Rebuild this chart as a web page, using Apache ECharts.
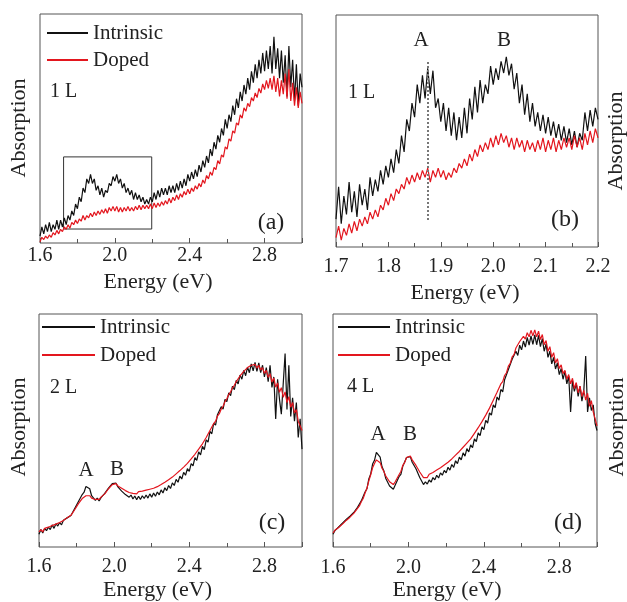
<!DOCTYPE html>
<html><head><meta charset="utf-8">
<script src="https://cdn.jsdelivr.net/npm/echarts@6/dist/echarts.min.js"></script>
<style>html,body{margin:0;padding:0;background:#fff}#c{width:627px;height:602px}</style>
</head><body><div id="c"></div>
<script>
// Energy sampling (eV)
const startA = 1.60, stepA = 0.01;   // panels a, c, d
const startB = 1.70, stepB = 0.005;  // panel b
const xTicksWide = ['1.6','2.0','2.4','2.8'];
const xTicksZoom = ['1.7','1.8','1.9','2.0','2.1','2.2'];
const seriesNames = ['Intrinsic','Doped'];

// Panel (a) 1 L
const a_intrinsic = [3,7,4,8,5,9,5,8,6,10,6,10,7,11,8,12,10,14,12,17,15,20,18,24,22,28,26,30,26,28,23,25,21,24,20,23,22,26,25,29,27,30,26,28,24,26,22,24,21,23,19,22,19,21,18,20,17,19,17,20,18,22,19,23,20,24,21,24,21,25,22,25,22,26,23,27,24,28,25,30,27,31,28,32,29,34,31,36,33,38,35,41,38,44,41,47,44,50,47,54,50,56,53,60,56,63,59,66,62,69,65,72,67,75,70,78,72,80,74,83,75,84,76,86,74,90,76,85,72,84,70,82,64,86,68,80,62,78,60,74,68];
const a_doped = [0.5,2.5,1.5,3,2,3.5,2.5,4.5,3.5,5.5,4,6,5,7,6,8,6.5,9,8,10,8.5,10.5,9.5,12,10,12,11,13,11.5,13.5,12,14,12.5,14.5,13,15,13,15.5,14,16,14,16,13.5,15.5,13.5,15.5,14,16,14,15.5,14,16,14.5,16.5,14.5,16.5,15,16.5,15,17,15,17.5,15.5,17.5,16,18,16.5,18.5,17,19.5,17.5,20,18.5,21,19,21.5,20,22.5,21,23.5,21.5,24,22.5,25,23.5,26,24.5,27.5,26,29.5,28,31,29.5,33,32,36,34.5,38.5,37.5,42,41,45.5,44.5,49,48,52.5,51.5,56,54.5,59,57.5,61,59.5,63.5,62,65.5,63.5,67.5,65.5,69.5,67,71,67.5,72,67,73,66,72,64,71,65,74,63,76,62,70,60,68,59,66,61];

// Panel (b) 1 L zoom
const b_intrinsic = [12,26,10,22,14,28,15,24,13,27,18,25,16,30,22,29,24,33,27,35,30,38,32,42,36,48,41,55,50,62,56,70,62,74,64,77,66,76,60,64,54,62,50,60,48,58,46,56,47,60,49,64,55,69,58,72,62,70,66,78,70,77,72,80,75,82,74,79,68,75,62,70,57,66,54,62,52,58,50,57,49,56,48,54,47,53,46,52,45,51,44,50,43,49,46,58,50,59,52,60,55];
const b_doped = [4,9,3,8,5,10,6,11,7,12,9,13,10,15,12,16,13,18,16,21,18,23,20,25,23,27,25,30,27,31,28,32,29,33,30,34,28,33,30,34,30,33,29,32,30,34,32,36,34,38,35,40,37,42,39,44,41,45,42,47,43,48,44,49,45,48,43,47,42,47,43,46,41,46,42,45,41,46,42,47,41,46,42,47,41,46,42,47,43,47,42,48,43,47,42,49,44,50,45,51,47];

// Panel (c) 2 L
const c_intrinsic = [5.5,7.5,6,8,7,8.5,7.5,9.5,8,10,9,10.5,9.5,11.5,11,12.5,12,13.5,14,16.5,17,19.5,20,22.5,23.5,26,25.5,25,22,22,20,21,19.8,21.2,21,23,23,25.3,25.5,27.2,26.8,27.4,25.8,25.9,24,24.2,22.5,23.2,21.4,22.3,20.6,21.9,20.3,21.8,20.4,22,20.8,22.3,21,22.8,21.4,23.2,21.8,23.6,22.4,24.5,23.2,25.4,24.2,26.4,25.1,27.5,26.4,29,27.8,30.4,29.2,32,30.8,33.6,32.5,35.8,34.8,38.4,37.2,40.8,39.5,43.2,41.8,46,45,49.6,48.6,53.2,52.3,56.8,56,60.2,59.2,63.4,62.4,66.2,65,69,67.5,71.5,70,73.8,72,75.8,73.5,77.2,74.8,78.6,75.6,79.2,75.4,79,74.8,78,73,77,71,78,68.5,73,55,72,63.5,57,57,83,59,78,56,64,54,62,47,55,42];
const c_doped = [6.5,7.5,6.5,8,7.2,8.5,7.8,9.2,8.5,9.8,9.2,10.5,10,11.4,11.2,12.6,12.4,13.6,14.2,16,16.6,18.6,19.2,20.8,21,22,21.4,22,21,21.4,20.4,21,20.4,21.4,21.4,22.8,23.2,25,25.4,26.8,26.6,27.2,26.2,26.4,25.2,25.4,24.2,24.6,23.4,24,23,23.8,22.8,23.8,23,24,23.2,24.4,23.6,24.8,24,25.2,24.6,25.9,25.4,26.8,26.3,27.8,27.4,28.9,28.5,30,29.8,31.4,31.2,32.8,32.6,34.3,34.2,35.9,36,37.8,38,39.8,40.2,42,42.5,44.3,45,47,47.8,50,50.8,53,54,56.2,57.2,59.2,60.4,62.4,63.6,65.4,66.6,68.3,69.4,71,71.8,73.4,74,75.4,75.6,77,76.8,78,77.2,78.4,76.8,78,76,77,74.5,75.8,72.8,74.4,70.8,72.5,68.6,70.4,66.4,68.4,64.2,66.6,62,64.5,60,62,57.5,59,54,54.5,50];

// Panel (d) 4 L
const d_intrinsic = [5.5,7,6.8,8.6,8.2,10.2,9.8,11.8,11.4,13.2,12.8,14.8,14.6,17,17.2,19.8,20.4,23.6,25,29.2,31.4,35.6,37.2,40.6,39.8,38.6,34.4,32.6,29.4,28.8,26.2,26.4,24.8,26.6,27,30.2,31.2,34.6,35.4,38.4,38,38.8,36.4,36.2,33.6,33,29.8,29.2,26.8,28,27,28.8,27.8,29.8,28.8,30.8,29.6,31.8,30.8,32.9,31.8,34.2,33,35.4,34.2,37,35.8,38.6,37.4,40.4,39,42.2,40.8,43.8,42.6,46.4,45.2,49,47.8,51.6,50.4,54.4,53.2,57.6,56.6,61,59.8,64.4,63,67.6,66.6,71.8,71,76.2,75.6,80.6,79.8,84,82.2,86.6,84.6,88.4,85.8,90,86.6,90.6,87,91,86.8,90.8,86,89.4,84,87.2,81.4,84,78.6,81.4,76.4,79,74,76.6,72,75.4,70,73.4,58,71.4,66.8,70.2,64.6,69,62.6,67,82,58,64,58.6,61,53,50];
const d_doped = [6,7.2,7.2,8.4,8.6,9.8,10.2,11.4,11.8,12.8,13.2,14.4,15,16.6,17.6,19.4,20.8,23.2,25.2,28.4,31,34,35.8,37.4,37.2,36.2,33.8,32.4,30.4,29.8,28,28,26.8,28,28.8,31,32.4,35,36.2,38.4,38.4,39,37.4,37,35,34.6,32.2,31.8,29.8,30.6,29.8,31.2,30.6,32,31.4,33,32.4,34,33.6,35.2,34.8,36.4,36,37.8,37.4,39.4,39,41,40.8,42.8,42.6,44.6,44.4,46.4,46.6,48.8,49,51.2,51.6,53.8,54.2,56.6,57,59.6,60.4,63,63.8,66.4,67.2,70,71,73.6,74.8,77.6,78.8,81.6,82.6,85.4,85.6,88.2,87.6,90.4,89.2,92,90.2,93,90.6,93.2,90.2,92.6,89,91.2,86.8,88.6,84,86,81.4,83.4,79,80.8,76.6,78.2,74.4,75.8,72,74,70,72.4,68,70.6,66.2,69,64.6,67.2,63,66,60.4,62.8,58,58,52];

// annotations (data coordinates)
const zoomBoxE = [1.726, 2.197], zoomBoxV = [37.6, 6.1];
const peakA_E = 1.875, peakLineV = [11.6, 80.6];

function pairs(start, step, vals){
  return vals.map((v,i)=>[+(start + i*step).toFixed(4), v]);
}

const FONT = '"Liberation Serif","Times New Roman",serif';
const TXT = '#222';
const BLACK = '#111', RED = '#e3161e', FRAME = '#555';

const grids = [
  {left:40, top:14, width:262, height:229},
  {left:336, top:15, width:262, height:232},
  {left:39, top:314, width:263, height:233},
  {left:333, top:314, width:264, height:233}
].map(g=>Object.assign({show:true, borderColor:FRAME, borderWidth:1, backgroundColor:'transparent'}, g));

function xAx(idx, min, max, interval, margin, nameGap, shiftLeft){
  return {
    type:'value', gridIndex:idx, min, max, interval,
    name:'Energy (eV)', nameLocation:'middle', nameGap,
    nameTextStyle:{fontFamily:FONT, fontSize:22, color:TXT, padding:[0, 2*shiftLeft, 0, 0]},
    axisLine:{show:false},
    axisTick:{show:true, inside:true, length:5, lineStyle:{color:FRAME}},
    minorTick:{show:true, splitNumber:2, length:4, lineStyle:{color:FRAME}},
    splitLine:{show:false},
    axisLabel:{margin, fontFamily:FONT, fontSize:20, color:TXT,
      formatter:v=>{const s=v.toFixed(1); return (interval===0.4?xTicksWide:xTicksZoom).includes(s)?s:'';},
      showMaxLabel: interval!==0.4}
  };
}
function yAx(idx){
  return {type:'value', gridIndex:idx, min:0, max:100, axisLine:{show:false}, axisTick:{show:false}, axisLabel:{show:false}, splitLine:{show:false}};
}

function ser(name, idx, data, color, extra){
  return Object.assign({type:'line', name, xAxisIndex:idx, yAxisIndex:idx, data, showSymbol:false, symbol:'none',
    lineStyle:{color, width:1.2}, itemStyle:{color}, animation:false, z: name==='Doped'?3:2}, extra||{});
}

const series = [
  ser(seriesNames[0],0,pairs(startA,stepA,a_intrinsic),BLACK,{markArea:{silent:true, itemStyle:{color:'rgba(0,0,0,0)', borderColor:'#333', borderWidth:1}, data:[[{coord:[zoomBoxE[0],zoomBoxV[0]]},{coord:[zoomBoxE[1],zoomBoxV[1]]}]]}}),
  ser(seriesNames[1],0,pairs(startA,stepA,a_doped),RED),
  ser(seriesNames[0],1,pairs(startB,stepB,b_intrinsic),BLACK,{markLine:{silent:true, symbol:'none', label:{show:false}, lineStyle:{type:'dotted', color:'#777', width:2}, data:[[{coord:[peakA_E,peakLineV[0]]},{coord:[peakA_E,peakLineV[1]]}]]}}),
  ser(seriesNames[1],1,pairs(startB,stepB,b_doped),RED),
  ser(seriesNames[0],2,pairs(startA,stepA,c_intrinsic),BLACK),
  ser(seriesNames[1],2,pairs(startA,stepA,c_doped),RED),
  ser(seriesNames[0],3,pairs(startA,stepA,d_intrinsic),BLACK),
  ser(seriesNames[1],3,pairs(startA,stepA,d_doped),RED)
];

function leg(left, top, w, gap){
  return {left, top, orient:'vertical', itemWidth:w, itemHeight:2, itemGap:gap, icon:'rect', padding:0, selectedMode:false,
    data:seriesNames, textStyle:{fontFamily:FONT, fontSize:21, color:TXT, lineHeight:22}};
}

function txt(x, y, text, size, align, rot){
  return {type:'text', x, y, rotation: rot||0, style:{text, fontFamily:FONT, fontSize:size, fill:TXT, align:align||'center', verticalAlign:'middle'}, silent:true};
}

const graphic = [
  txt(50,92,'1 L',20,'left'), txt(271,223,'(a)',24),
  txt(348,93,'1 L',20,'left'), txt(565,220,'(b)',24), txt(421,40,'A',21), txt(504,40,'B',21),
  txt(50,388,'2 L',20,'left'), txt(272,523,'(c)',24), txt(86,470,'A',21), txt(117,469,'B',21),
  txt(347,387,'4 L',20,'left'), txt(568,523,'(d)',24), txt(378,434,'A',21), txt(410,434,'B',21),
  txt(19,128,'Absorption',22,'center',Math.PI/2), txt(616,141,'Absorption',22,'center',Math.PI/2),
  txt(19,427,'Absorption',22,'center',Math.PI/2), txt(617,427,'Absorption',22,'center',Math.PI/2)
];

const chart = echarts.init(document.getElementById('c'), null, {renderer:'canvas'});
chart.setOption({
  animation:false,
  backgroundColor:'#fff',
  grid: grids,
  xAxis: [xAx(0,1.6,3.0,0.4,3,28,13), xAx(1,1.7,2.2,0.1,10,35,2), xAx(2,1.6,3.0,0.4,10,32,13), xAx(3,1.6,3.0,0.4,11,29,18)],
  yAxis: [yAx(0),yAx(1),yAx(2),yAx(3)],
  legend: [leg(47,22,41,5), leg(42,316,53,6), leg(338,316,52,6)],
  series,
  graphic
});
</script></body></html>
